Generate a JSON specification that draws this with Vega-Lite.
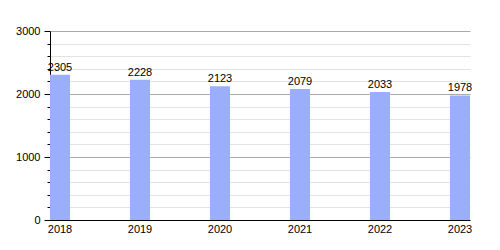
{
  "$schema": "https://vega.github.io/schema/vega-lite/v6.json",
  "width": 420,
  "height": 189,
  "autosize": {"type": "none"},
  "padding": {"left": 50, "top": 31, "right": 30, "bottom": 30},
  "config": {
    "view": {"stroke": null},
    "font": "Liberation Sans",
    "axis": {"labelFont": "Liberation Sans", "labelFontSize": 11, "labelColor": "#000000", "domainColor": "#000000", "tickColor": "#000000", "title": null}
  },
  "data": {
    "values": [
      {"year": "2018", "value": 2305},
      {"year": "2019", "value": 2228},
      {"year": "2020", "value": 2123},
      {"year": "2021", "value": 2079},
      {"year": "2022", "value": 2033},
      {"year": "2023", "value": 1978}
    ]
  },
  "encoding": {
    "x": {
      "field": "year",
      "type": "ordinal",
      "scale": {"paddingInner": 0.75, "paddingOuter": 0},
      "axis": {"labelAngle": 0, "ticks": false, "labelPadding": 3, "grid": false, "domainWidth": 1}
    }
  },
  "layer": [
    {
      "mark": {"type": "bar", "color": "#9aaefc"},
      "encoding": {
        "y": {
          "field": "value",
          "type": "quantitative",
          "scale": {"domain": [0, 3000], "nice": false},
          "axis": {"orient": "left", "values": [0, 1000, 2000, 3000], "format": "d", "grid": true, "gridColor": "#aaaaaa", "tickSize": 6, "labelPadding": 4, "domainWidth": 1}
        }
      }
    },
    {
      "mark": {"type": "text", "dy": -7, "fontSize": 11, "color": "#000000", "font": "Liberation Sans"},
      "encoding": {
        "y": {
          "field": "value",
          "type": "quantitative",
          "axis": {"orient": "left", "values": [200, 400, 600, 800, 1200, 1400, 1600, 1800, 2200, 2400, 2600, 2800], "grid": true, "gridColor": "#e2e2e2", "tickSize": 3, "labels": false, "domain": false}
        },
        "text": {"field": "value", "type": "quantitative", "format": "d"}
      }
    }
  ],
  "resolve": {"axis": {"y": "independent"}}
}
